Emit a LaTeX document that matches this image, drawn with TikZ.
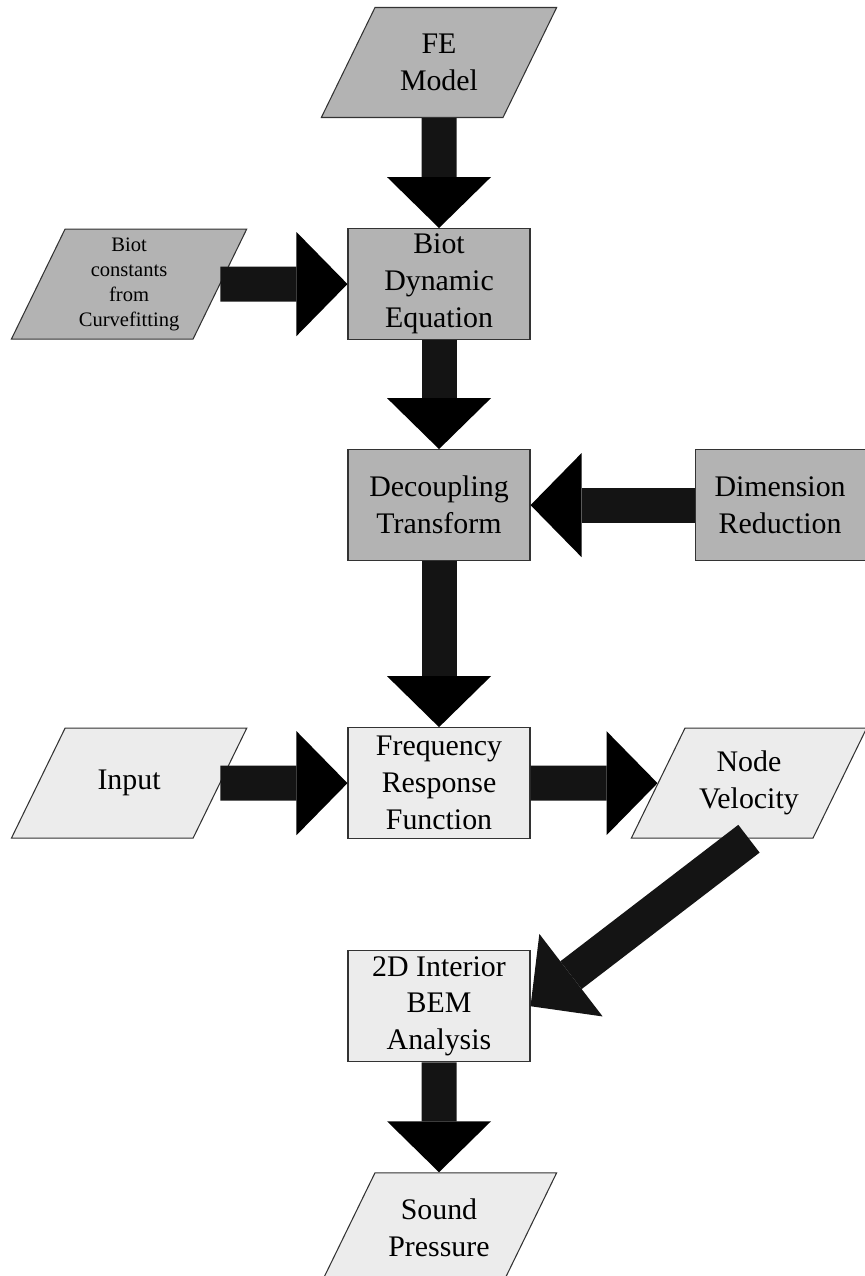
\documentclass[tikz,border=0pt]{standalone}
\usepackage{fontspec}
\setmainfont{Liberation Serif}
\usetikzlibrary{arrows.meta,positioning,shapes.geometric}

\definecolor{darkfill}{HTML}{B3B3B3}
\definecolor{lightfill}{HTML}{ECECEC}
\definecolor{edgegray}{HTML}{333333}
\definecolor{flowblack}{HTML}{141414}

\begin{document}
\begin{tikzpicture}[
	> = {Triangle[width=2.08cm, length=1.02cm, line width'=0pt]}, % big block arrow head
	node distance = 2.2cm, % distance between nodes
	font=\fontsize{17}{21}\selectfont,
	Bd/.style={rectangle, draw=edgegray, fill=darkfill, line width=0.6pt, minimum width=3.64cm, minimum height=2.22cm, inner sep=1pt, align=center},  % dark box
	Bl/.style={Bd, fill=lightfill},                                                                                                                      % light box
	Pd/.style={trapezium, trapezium left angle=64, trapezium right angle=116, draw=edgegray, fill=darkfill, line width=0.6pt, inner xsep=0pt, inner ysep=0.15cm,
		execute at begin node={\begin{minipage}[c][1.9cm][c]{2.56cm}\centering},
		execute at end node={\end{minipage}}},                                                                                                           % dark in/out
	Pl/.style={Pd, fill=lightfill},                                                                                                                      % light in/out
	Fl/.style={->, line width=0.7cm, line cap=butt, line join=bevel, draw=flowblack},                                                                  % flow arrow
	]
	\useasboundingbox (-8.78,1.25) rectangle (8.52,-24.27);

    % Model set-up
	% Nodes and their relative positions
	\node[Pd] (FE) at (0,0) {FE\\Model};
	\node[Bd] (BD) [below = 2.2 of FE] {Biot\\Dynamic\\Equation};
	\node[Pd, font=\fontsize{11.7}{14.2}\selectfont] (BC) [left = 2.54 of BD] {Biot\\constants\\from\\Curvefitting};
	\node[Bd] (DT) [below = 2.18 of BD] {Decoupling\\Transform};
	\node[Bd, minimum width=3.4cm] (DR) [right = 3.28 of DT] {Dimension\\Reduction};
	% Paths connecting nodes
    \path[Fl] (FE) edge (BD);
	\path[Fl] (BC) edge (BD);
	\path[Fl] (BD) edge (DT);
	\path[Fl] (DR) edge (DT);

    % Response and radiation
	% Nodes and their relative positions
	\node[Bl] (FR) [below = 3.32 of DT] {Frequency\\Response\\Function};
	\node[Pl] (IN) [left = 2.54 of FR] {Input};
	\node[Pl] (NV) [right = 2.54 of FR] {Node\\Velocity};
	\node[Bl] (BE) [below = 2.22 of FR] {2D Interior\\BEM\\Analysis};
	\node[Pl] (SP) [below = 2.2 of BE] {Sound\\Pressure};
	% Paths connecting nodes
    \path[Fl] (DT) edge (FR);
	\path[Fl] (IN) edge (FR);
	\path[Fl] (FR) edge (NV);
	\draw[Fl] (NV.south) -- (BE.east);
	\path[Fl] (BE) edge (SP);

\end{tikzpicture}
\end{document}
